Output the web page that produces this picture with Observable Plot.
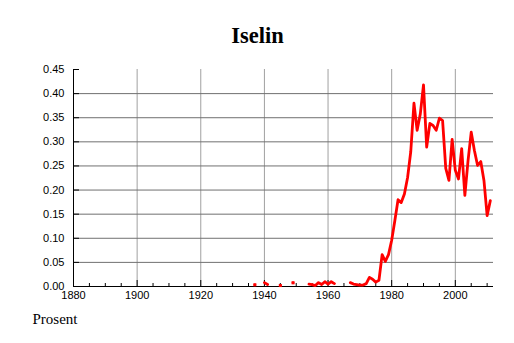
<!DOCTYPE html>
<html>
<head>
<meta charset="utf-8">
<script src="https://cdn.jsdelivr.net/npm/d3@7"></script>
<script src="https://cdn.jsdelivr.net/npm/@observablehq/plot@0.6"></script>
<style>
  html, body { margin: 0; padding: 0; background: #fff; }
  #chart svg { display: block; }
</style>
</head>
<body>
<div id="chart"></div>
<script>
const title = "Iselin";
const caption = "Prosent";

// Years 1937–2011; null = no data that year
const years = d3.range(1937, 2012);
const values = [
  0.0035, null, null, 0.008, 0.004, null, null, null, 0.002, null,   // 1937–1946
  null, null, 0.0077, null, null, null, null, 0.005, 0.004, 0.002,   // 1947–1956
  0.008, 0.004, 0.010, 0.005, 0.010, 0.006, null, null, null, null,  // 1957–1966
  0.008, 0.005, 0.004, 0.003, 0.003, 0.006, 0.019, 0.015, 0.009, 0.013, // 1967–1976
  0.066, 0.052, 0.066, 0.096, 0.137, 0.180, 0.174, 0.192, 0.226, 0.280, // 1977–1986
  0.380, 0.324, 0.358, 0.418, 0.289, 0.338, 0.334, 0.324, 0.349, 0.344, // 1987–1996
  0.245, 0.220, 0.305, 0.241, 0.223, 0.286, 0.189, 0.261, 0.320, 0.282, // 1997–2006
  0.251, 0.259, 0.220, 0.147, 0.178                                     // 2007–2011
];

const xDomain = [1880, 2012];
const yDomain = [0, 0.45];
const xMajorTicks = [1880, 1900, 1920, 1940, 1960, 1980, 2000];
const xMinorTicks = [1885, 1890, 1895, 1905, 1910, 1915, 1925, 1930, 1935, 1945, 1950, 1955, 1965, 1970, 1975, 1985, 1990, 1995, 2005, 2010];
const yTicks = [0, 0.05, 0.10, 0.15, 0.20, 0.25, 0.30, 0.35, 0.40, 0.45];

const data = years.map((year, i) => ({year, value: values[i] == null ? NaN : values[i]}));
const isolated = data.filter((d, i) =>
  !isNaN(d.value) &&
  (i === 0 || isNaN(data[i - 1].value)) &&
  (i === data.length - 1 || isNaN(data[i + 1].value)));

const sans = "'Liberation Sans', Arial, Helvetica, sans-serif";
const serif = "'Liberation Serif', 'Times New Roman', serif";

const chart = Plot.plot({
  width: 514,
  height: 343,
  marginLeft: 73,
  marginRight: 21,
  marginTop: 69,
  marginBottom: 57,
  style: {fontFamily: sans, fontSize: "11px", color: "#000", background: "#fff"},
  x: {domain: xDomain, label: null},
  y: {domain: yDomain, label: null},
  marks: [
    Plot.gridX(xMajorTicks.slice(1), {stroke: "#a0a0a0", strokeOpacity: 1}),
    Plot.gridY(yTicks.slice(1, -1), {stroke: "#707070", strokeOpacity: 1}),
    Plot.ruleX([xDomain[0]], {stroke: "#000"}),
    Plot.ruleY([0], {stroke: "#000"}),
    // labels
    Plot.axisY({ticks: yTicks, tickSize: 0, tickPadding: 9, tickFormat: d3.format(".2f"), fontSize: 11}),
    Plot.axisX({ticks: xMajorTicks, tickSize: 0, tickPadding: 5, tickFormat: d3.format("d"), fontSize: 11}),
    // inward ticks
    Plot.axisY({ticks: yTicks, tickSize: 6, dx: 6, text: null, stroke: "#000"}),
    Plot.axisX({ticks: xMajorTicks, tickSize: 6, dy: -6, text: null, stroke: "#000"}),
    Plot.axisX({ticks: xMinorTicks, tickSize: 3, dy: -3, text: null, stroke: "#000"}),
    // data
    Plot.line(data, {x: "year", y: "value", stroke: "#ff0000", strokeWidth: 2.8, strokeLinejoin: "round", strokeLinecap: "round"}),
    Plot.dot(isolated, {x: "year", y: "value", r: 1.7, symbol: "square", fill: "#ff0000", stroke: null}),
    // title & caption
    Plot.text([title], {frameAnchor: "top", dx: -26, dy: -27, lineAnchor: "bottom", fontSize: 22.5, fontWeight: "bold", fontFamily: serif, fill: "#000"}),
    Plot.text([caption], {frameAnchor: "bottom-left", dx: -41, dy: 37, textAnchor: "start", lineAnchor: "bottom", fontSize: 15, fontFamily: serif, fill: "#000"})
  ]
});
document.getElementById("chart").appendChild(chart);
</script>
</body>
</html>
